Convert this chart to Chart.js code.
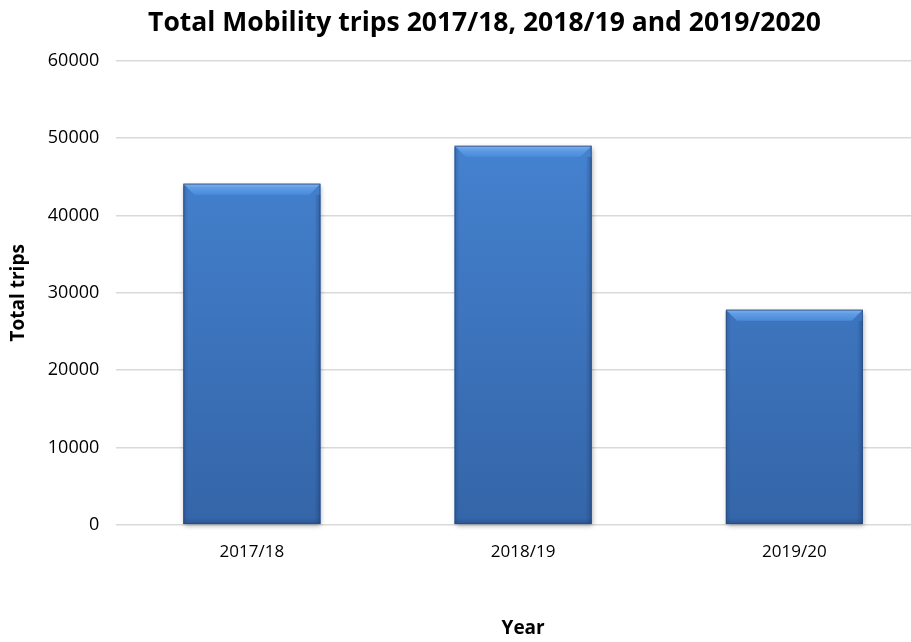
<!DOCTYPE html>
<html>
<head>
<meta charset="utf-8">
<script src="https://cdn.jsdelivr.net/npm/chart.js@4/dist/chart.umd.min.js"></script>
<style>
  html, body { margin: 0; padding: 0; background: #fff; overflow: hidden; }
  #wrap { width: 930px; height: 642px; }
</style>
</head>
<body>
<div id="wrap"><canvas id="trips-chart"></canvas></div>
<script>
// Mobility trips per year
const years = ['2017/18', '2018/19', '2019/20'];
const totalTrips = [44100, 49000, 27800];
const yTicks = [0, 10000, 20000, 30000, 40000, 50000, 60000];

const font = '"Open Sans", Lato, sans-serif';

// nudge the title a little right of the canvas centre
const titleShift = {
    id: 'titleShift',
    afterLayout(chart) {
        if (chart.titleBlock) {
            chart.titleBlock.left += 16;
            chart.titleBlock.right += 16;
        }
    }
};

// bevelled bar look: gradient body, lit top edge, soft shadow
const bevelBars = {
    id: 'bevelBars',
    beforeDatasetsDraw(chart) {
        const ctx = chart.ctx;
        chart.getDatasetMeta(0).data.forEach(bar => {
            const w = bar.width, x = bar.x - w / 2, y = bar.y, h = bar.base - bar.y;
            ctx.save();
            ctx.shadowColor = 'rgba(0,0,0,0.35)';
            ctx.shadowBlur = 5;
            ctx.shadowOffsetX = 1;
            ctx.shadowOffsetY = 2;
            ctx.fillStyle = '#3a6fb8';
            ctx.fillRect(x, y, w, h);
            ctx.restore();
        });
    },
    afterDatasetsDraw(chart) {
        const ctx = chart.ctx;
        chart.getDatasetMeta(0).data.forEach(bar => {
            const w = bar.width, x = bar.x - w / 2, y = bar.y, h = bar.base - bar.y;
            const b = 11;
            ctx.save();
            // top bevel
            let g = ctx.createLinearGradient(0, y, 0, y + b);
            g.addColorStop(0, '#80b2ee');
            g.addColorStop(0.35, '#609de6');
            g.addColorStop(1, '#4a8ada');
            ctx.fillStyle = g;
            ctx.beginPath();
            ctx.moveTo(x, y); ctx.lineTo(x + w, y);
            ctx.lineTo(x + w - b, y + b); ctx.lineTo(x + b, y + b);
            ctx.closePath(); ctx.fill();
            // right edge darker
            g = ctx.createLinearGradient(x + w - 6, 0, x + w, 0);
            g.addColorStop(0, 'rgba(30,60,110,0)');
            g.addColorStop(1, 'rgba(30,60,110,0.45)');
            ctx.fillStyle = g;
            ctx.fillRect(x + w - 6, y + b, 6, h - b);
            // left edge
            g = ctx.createLinearGradient(x, 0, x + 5, 0);
            g.addColorStop(0, 'rgba(30,60,110,0.3)');
            g.addColorStop(1, 'rgba(30,60,110,0)');
            ctx.fillStyle = g;
            ctx.fillRect(x, y + 2, 5, h - 2);
            // bottom edge
            g = ctx.createLinearGradient(0, bar.base - 6, 0, bar.base);
            g.addColorStop(0, 'rgba(30,60,110,0)');
            g.addColorStop(1, 'rgba(30,60,110,0.4)');
            ctx.fillStyle = g;
            ctx.fillRect(x, bar.base - 6, w, 6);
            ctx.strokeStyle = 'rgba(40,70,120,0.6)';
            ctx.lineWidth = 1;
            ctx.strokeRect(x + 0.5, y + 0.5, w - 1, h - 1);
            ctx.restore();
        });
    }
};

new Chart(document.getElementById('trips-chart'), {
    type: 'bar',
    data: {
        labels: years,
        datasets: [{
            label: 'Total trips',
            data: totalTrips,
            backgroundColor: function(c) {
                const area = c.chart.chartArea;
                if (!area) return '#3f7ac8';
                const g = c.chart.ctx.createLinearGradient(0, area.top, 0, area.bottom);
                g.addColorStop(0, '#4888d8');
                g.addColorStop(1, '#3465a8');
                return g;
            },
            barPercentage: 0.505,
            categoryPercentage: 1
        }]
    },
    options: {
        responsive: true,
        maintainAspectRatio: false,
        animation: false,
        layout: { padding: { left: 7, right: 0, top: 8, bottom: 2 } },
        scales: {
            y: {
                min: 0,
                max: 60000,
                afterBuildTicks: axis => { axis.ticks = yTicks.map(v => ({ value: v })); },
                border: { display: false },
                grid: { color: '#d9d9d9', lineWidth: 1.5, drawTicks: false },
                ticks: {
                    color: '#000',
                    font: { family: font, size: 18 },
                    padding: 17,
                    callback: v => String(v)
                },
                title: {
                    display: true,
                    text: 'Total trips',
                    color: '#000',
                    font: { family: font, size: 19, weight: 'bold' },
                    padding: { top: 0, bottom: 1 }
                }
            },
            x: {
                border: { display: false },
                grid: { display: false },
                ticks: { color: '#000', font: { family: font, size: 17 }, padding: 9 },
                title: {
                    display: true,
                    text: 'Year',
                    color: '#000',
                    font: { family: font, size: 19, weight: 'bold' },
                    padding: { top: 46, bottom: 0 }
                }
            }
        },
        plugins: {
            legend: { display: false },
            tooltip: { enabled: false },
            title: {
                display: true,
                text: 'Total Mobility trips 2017/18, 2018/19 and 2019/2020',
                color: '#000',
                font: { family: font, size: 26.5, weight: 'bold' },
                padding: { top: 0, bottom: 21 }
            }
        }
    },
    plugins: [titleShift, bevelBars]
});
</script>
</body>
</html>
